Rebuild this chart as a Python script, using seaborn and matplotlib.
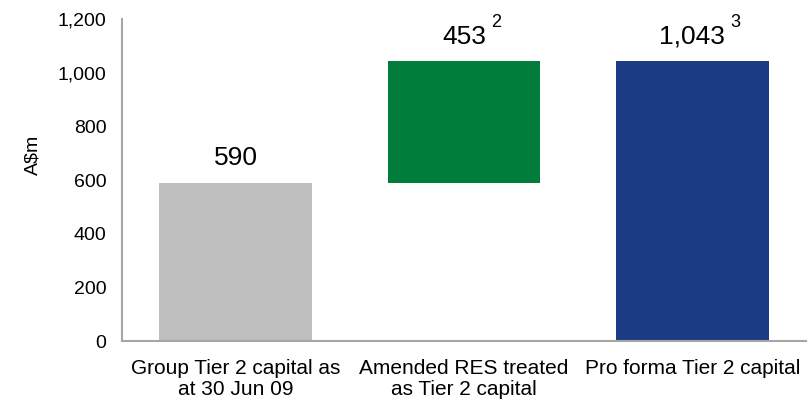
import matplotlib
matplotlib.use("Agg")
import matplotlib.pyplot as plt
import seaborn as sns
import pandas as pd

categories = ["Group Tier 2 capital as\nat 30 Jun 09",
              "Amended RES treated\nas Tier 2 capital",
              "Pro forma Tier 2 capital"]
bar_tops = [590, 1043, 1043]
bar_bottoms = [0, 590, 0]
value_labels = ["590", "453", "1,043"]
footnotes = ["", "2", "3"]
colors = ["#BFBFBF", "#007D3A", "#1B3C84"]
y_ticks = [0, 200, 400, 600, 800, 1000, 1200]

sns.set_theme(style="white")
plt.rcParams["font.family"] = ["Liberation Sans", "DejaVu Sans"]

df = pd.DataFrame({"cat": categories, "top": bar_tops, "bottom": bar_bottoms})

fig, ax = plt.subplots(figsize=(8.12, 4.08), dpi=100)
fig.subplots_adjust(left=0.150, right=0.993, top=0.953, bottom=0.164)

sns.barplot(data=df, x="cat", y="top", ax=ax, palette=colors, hue="cat",
            legend=False, width=0.67, saturation=1)
# waterfall: lift the middle bar so it floats between the two totals
for patch, b in zip(ax.patches, df["bottom"]):
    patch.set_y(b)
    patch.set_height(patch.get_height() - b)
    patch.set_edgecolor("none")

for i, (top, lab, fn) in enumerate(zip(bar_tops, value_labels, footnotes)):
    t = ax.annotate(lab, (i, top), xytext=(0, 12.5), textcoords="offset points",
                    ha="center", va="baseline", fontsize=19, color="black")
    if fn:
        ax.annotate(fn, xy=(1, top), xycoords=(t, "data"),
                    xytext=(4, 25), textcoords="offset points",
                    ha="left", va="baseline", fontsize=13, color="black")

ax.set_ylim(0, 1200)
ax.set_xlim(-0.5, 2.5)
ax.set_yticks(y_ticks)
ax.set_yticklabels([f"{v:,}" for v in y_ticks], fontsize=14)
ax.set_xticks(range(len(categories)))
ax.set_xticklabels(categories, fontsize=15, linespacing=1.15)
ax.set_xlabel("")
ax.set_ylabel(r"A\$m", fontsize=14, color="black")
ax.yaxis.set_label_coords(-0.117, 0.58)
ax.tick_params(axis="y", length=0, pad=11, labelcolor="black")
ax.tick_params(axis="x", length=0, pad=13, labelcolor="black")

for s in ["top", "right"]:
    ax.spines[s].set_visible(False)
for s in ["left", "bottom"]:
    ax.spines[s].set_color("#A6A6A6")
    ax.spines[s].set_linewidth(1.5)

fig.savefig("out.png", dpi=100)
